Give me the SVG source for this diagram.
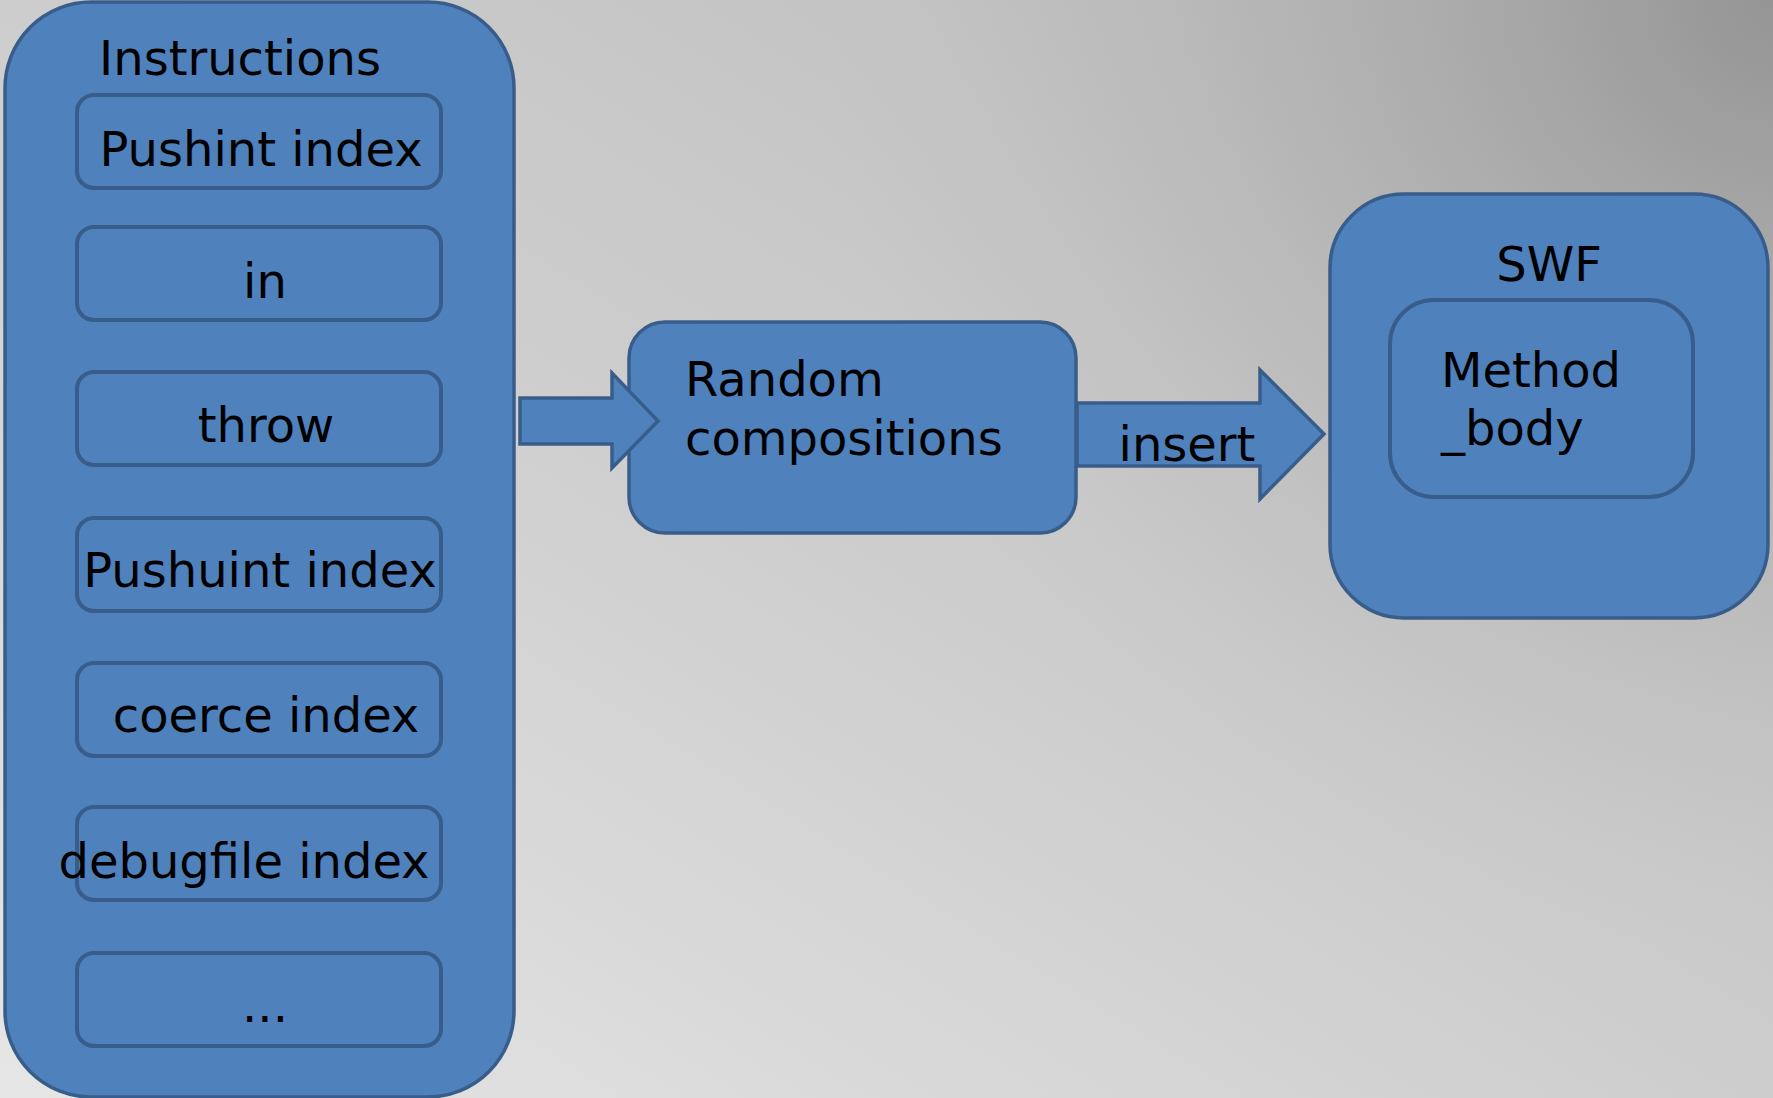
<svg xmlns="http://www.w3.org/2000/svg" width="1773" height="1098" viewBox="0 0 1773 1098">
  <defs>
    <linearGradient id="bg" x1="0" y1="1" x2="1" y2="0">
      <stop offset="0" stop-color="#e6e6e6"/>
      <stop offset="0.5" stop-color="#cdcdcd"/>
      <stop offset="1" stop-color="#bababa"/>
    </linearGradient>
    <radialGradient id="shade" cx="1773" cy="0" r="950" gradientUnits="userSpaceOnUse">
      <stop offset="0" stop-color="#8e8e8e" stop-opacity="0.85"/>
      <stop offset="0.45" stop-color="#a0a0a0" stop-opacity="0.45"/>
      <stop offset="1" stop-color="#bbbbbb" stop-opacity="0"/>
    </radialGradient>
    <style>
      .box { fill: #4f81bd; stroke: #385d8a; stroke-width: 3.5; }
      .item { fill: #4f81bd; stroke: #385d8a; stroke-width: 4; }
      .arrow { fill: #4f81bd; stroke: #385d8a; stroke-width: 3.5; stroke-linejoin: miter; }
      text { font-family: "DejaVu Sans", Verdana, sans-serif; font-size: 48px; fill: #000; }
      .c { text-anchor: middle; }
    </style>
  </defs>

  <rect width="1773" height="1098" fill="url(#bg)"/>
  <rect width="1773" height="1098" fill="url(#shade)"/>

  <!-- instruction list -->
  <g id="instructions">
    <rect class="box" x="5" y="2" width="509" height="1095" rx="86" ry="86"/>
    <text x="240" y="75" class="c">Instructions</text>
  </g>
  <g id="op-pushint">
    <rect class="item" x="77" y="95" width="364" height="93" rx="17"/>
    <text x="261" y="166" class="c">Pushint index</text>
  </g>
  <g id="op-in">
    <rect class="item" x="77" y="227" width="364" height="93" rx="17"/>
    <text x="265" y="298" class="c">in</text>
  </g>
  <g id="op-throw">
    <rect class="item" x="77" y="372" width="364" height="93" rx="17"/>
    <text x="266" y="442" class="c">throw</text>
  </g>
  <g id="op-pushuint">
    <rect class="item" x="77" y="518" width="364" height="93" rx="17"/>
    <text x="260" y="587" class="c">Pushuint index</text>
  </g>
  <g id="op-coerce">
    <rect class="item" x="77" y="663" width="364" height="93" rx="17"/>
    <text x="266" y="732" class="c">coerce index</text>
  </g>
  <g id="op-debugfile">
    <rect class="item" x="77" y="807" width="364" height="93" rx="17"/>
    <text x="244" y="878" class="c">debugfile index</text>
  </g>
  <g id="op-more">
    <rect class="item" x="77" y="953" width="364" height="93" rx="17"/>
    <text x="265" y="1022" class="c">...</text>
  </g>

  <!-- composition step -->
  <g id="random-compositions">
    <rect class="box" x="629" y="322" width="447" height="211" rx="36"/>
    <text x="685" y="396">Random</text>
    <text x="685" y="455">compositions</text>
  </g>

  <!-- target file -->
  <g id="swf">
    <rect class="box" x="1330" y="194" width="438" height="424" rx="74"/>
    <text x="1549" y="281" class="c">SWF</text>
  </g>
  <g id="method-body">
    <rect class="item" x="1390" y="300" width="303" height="197" rx="44"/>
    <text x="1441" y="387">Method</text>
    <text x="1441" y="445">_body</text>
  </g>

  <!-- connectors, drawn over the boxes they touch -->
  <g id="connectors">
    <polygon class="arrow" points="520,398 612,398 612,373 658,421 612,468 612,444 520,444"/>
    <polygon class="arrow" points="1077,403 1260,403 1260,370 1324,434 1260,499 1260,466 1077,466"/>
    <text x="1187" y="461" class="c">insert</text>
  </g>
</svg>
